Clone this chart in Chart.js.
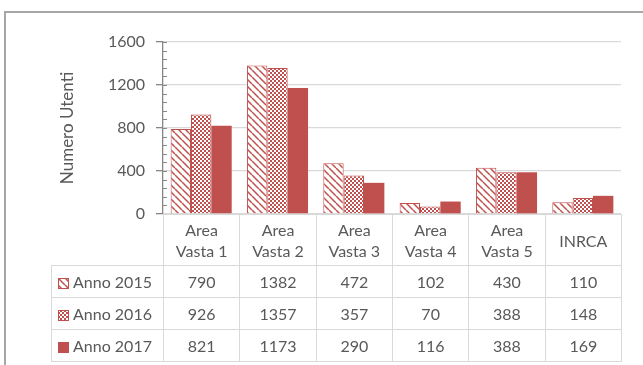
<!DOCTYPE html>
<html>
<head>
<meta charset="utf-8">
<script src="https://cdn.jsdelivr.net/npm/chart.js@4/dist/chart.umd.min.js"></script>
<style>
  html, body { margin:0; padding:0; background:#fff; }
  #wrap { position:relative; width:643px; height:365px; overflow:hidden; font-family:Lato, "Open Sans", sans-serif; color:#595959; }
  #frame { position:absolute; left:4px; top:11px; width:700px; height:400px; border-left:2px solid #A6A6A6; border-top:2px solid #A6A6A6; }
  #c { position:absolute; left:0; top:0; }
  #tbl { position:absolute; border-collapse:collapse; table-layout:fixed; font-size:16px; color:#595959; }
  #tbl td { border:1px solid #D9D9D9; text-align:center; padding:0; vertical-align:middle; white-space:nowrap; }
  #tbl td.hdr { line-height:21px; }
  #tbl td.leg { text-align:left; padding-left:6px; }
  #tbl td.blank { border-top:none; border-left:none; }
  .key { display:inline-block; width:11px; height:11px; vertical-align:-1px; margin-right:4px; }
</style>
</head>
<body>
<div id="wrap">
  <div id="frame"></div>
  <canvas id="c" width="643" height="365"></canvas>
  <table id="tbl"></table>
</div>
<script>
// ---- data ----
const categories = ['Area Vasta 1', 'Area Vasta 2', 'Area Vasta 3', 'Area Vasta 4', 'Area Vasta 5', 'INRCA'];
const headerLines = [['Area', 'Vasta 1'], ['Area', 'Vasta 2'], ['Area', 'Vasta 3'], ['Area', 'Vasta 4'], ['Area', 'Vasta 5'], ['INRCA']];
const seriesNames = ['Anno 2015', 'Anno 2016', 'Anno 2017'];
const values2015 = [790, 1382, 472, 102, 430, 110];
const values2016 = [926, 1357, 357, 70, 388, 148];
const values2017 = [821, 1173, 290, 116, 388, 169];
const yTicks = [0, 400, 800, 1200, 1600];
const yTitle = 'Numero Utenti';

const RED = '#C0504D';

function makeDiagTile() {
  const n = 7;
  const c = document.createElement('canvas'); c.width = n; c.height = n;
  const x = c.getContext('2d');
  x.fillStyle = '#fff'; x.fillRect(0, 0, n, n);
  x.strokeStyle = RED; x.lineWidth = 1.5;
  x.beginPath();
  for (let k = -1; k <= 1; k++) { x.moveTo(k * n, 0); x.lineTo(k * n + n, n); }
  x.stroke();
  return c;
}
function makeCheckTile() {
  const c = document.createElement('canvas'); c.width = 4; c.height = 4;
  const x = c.getContext('2d');
  x.fillStyle = RED; x.fillRect(0, 0, 4, 4);
  x.fillStyle = '#fff'; x.fillRect(0, 0, 2, 2); x.fillRect(2, 2, 2, 2);
  return c;
}
const ctx = document.getElementById('c').getContext('2d');
const diagPat = ctx.createPattern(makeDiagTile(), 'repeat');
const checkPat = ctx.createPattern(makeCheckTile(), 'repeat');
const fills = [diagPat, checkPat, RED];

const minorTicks = {
  id: 'minorTicks',
  afterDraw(chart) {
    const y = chart.scales.y, c = chart.ctx, x0 = chart.chartArea.left;
    c.save();
    c.strokeStyle = '#868686'; c.lineWidth = 1;
    for (let v = 0; v <= 1600; v += 80) {
      const py = Math.round(y.getPixelForValue(v)) + 0.5;
      c.beginPath(); c.moveTo(x0, py); c.lineTo(x0 + 4, py); c.stroke();
    }
    c.beginPath(); c.moveTo(x0 + 0.5, chart.chartArea.bottom); c.lineTo(x0 + 0.5, chart.chartArea.bottom + 3); c.stroke();
    c.restore();
  }
};

const chart = new Chart(ctx, {
  type: 'bar',
  data: {
    labels: categories,
    datasets: [
      { label: seriesNames[0], data: values2015, backgroundColor: fills[0], borderColor: RED, borderWidth: 1 },
      { label: seriesNames[1], data: values2016, backgroundColor: fills[1], borderColor: RED, borderWidth: 1 },
      { label: seriesNames[2], data: values2017, backgroundColor: fills[2], borderColor: RED, borderWidth: 0 }
    ]
  },
  options: {
    responsive: false,
    animation: false,
    devicePixelRatio: 1,
    layout: { padding: { left: 53, right: 22, top: 42, bottom: 151 } },
    datasets: { bar: { categoryPercentage: 0.8, barPercentage: 1.0 } },
    plugins: { legend: { display: false }, tooltip: { enabled: false } },
    scales: {
      x: { display: false },
      y: {
        min: 0, max: 1600,
        afterFit(s) { s.width = 110; },
        afterBuildTicks(s) { s.ticks = yTicks.map(v => ({ value: v })); },
        ticks: { color: '#595959', font: { family: 'Lato', size: 16 }, padding: 11, callback: v => String(v) },
        grid: { color: '#D9D9D9', lineWidth: 1.3, tickColor: '#868686', tickLength: 7 },
        border: { color: '#868686', width: 1.3 },
        title: { display: true, text: yTitle, color: '#595959', font: { family: 'Lato', size: 17 } }
      }
    }
  },
  plugins: [minorTicks]
});

// ---- data table below the plot, aligned with the category scale ----
(function buildTable() {
  const area = chart.chartArea;
  const tableLeft = 51;
  const colW = (area.right - area.left) / categories.length;
  const tbl = document.getElementById('tbl');
  tbl.style.left = tableLeft + 'px';
  tbl.style.top = area.bottom + 'px';
  tbl.style.width = (area.right - tableLeft) + 'px';
  const cg = document.createElement('colgroup');
  const c0 = document.createElement('col'); c0.style.width = (area.left - tableLeft) + 'px'; cg.appendChild(c0);
  categories.forEach(() => { const c = document.createElement('col'); c.style.width = colW + 'px'; cg.appendChild(c); });
  tbl.appendChild(cg);

  const hr = document.createElement('tr'); hr.style.height = '51px';
  const blank = document.createElement('td'); blank.className = 'blank'; hr.appendChild(blank);
  headerLines.forEach(lines => {
    const td = document.createElement('td'); td.className = 'hdr';
    lines.forEach((l, i) => { if (i) td.appendChild(document.createElement('br')); td.appendChild(document.createTextNode(l)); });
    hr.appendChild(td);
  });
  tbl.appendChild(hr);

  const allVals = [values2015, values2016, values2017];
  const tiles = [makeDiagTile(), makeCheckTile(), null];
  seriesNames.forEach((name, si) => {
    const tr = document.createElement('tr'); tr.style.height = '32px';
    const lt = document.createElement('td'); lt.className = 'leg';
    const key = document.createElement('canvas'); key.width = 11; key.height = 11; key.className = 'key';
    const kx = key.getContext('2d');
    kx.fillStyle = tiles[si] ? kx.createPattern(tiles[si], 'repeat') : RED;
    kx.fillRect(0, 0, 11, 11);
    if (tiles[si]) { kx.strokeStyle = RED; kx.lineWidth = 1; kx.strokeRect(0.5, 0.5, 10, 10); }
    lt.appendChild(key); lt.appendChild(document.createTextNode(name));
    tr.appendChild(lt);
    allVals[si].forEach(v => { const td = document.createElement('td'); td.textContent = String(v); tr.appendChild(td); });
    tbl.appendChild(tr);
  });
})();
</script>
</body>
</html>
